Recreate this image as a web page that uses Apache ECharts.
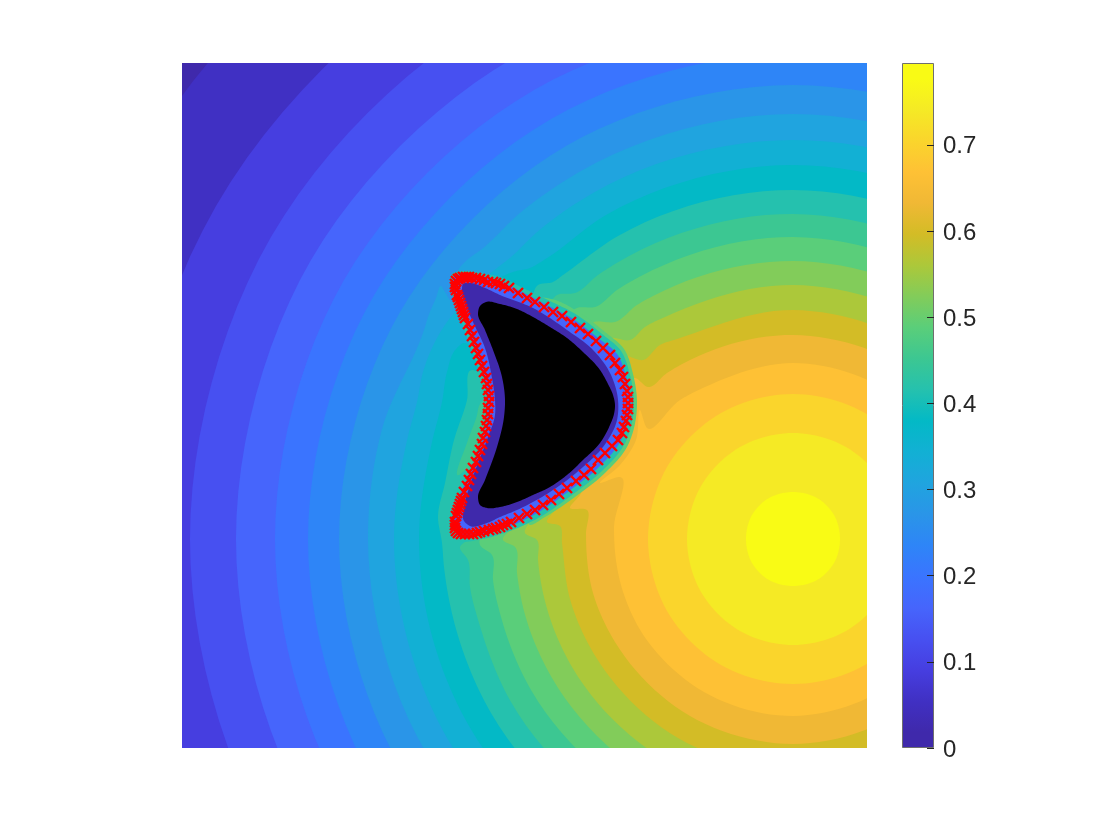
<!DOCTYPE html>
<html>
<head>
<meta charset="utf-8">
<title>Filled contour</title>
<style>
  html, body { margin: 0; padding: 0; background: #fff; }
  #chart { width: 1120px; height: 840px; }
</style>
<script src="https://cdn.jsdelivr.net/npm/echarts@6/dist/echarts.min.js"></script>
</head>
<body>
<div id="chart"></div>
<script>
// band colours, lowest to highest
const bandColors = ['#3f29ab', '#4030c3', '#463ee0', '#4750f1', '#4665fc', '#3a74ff', '#2e85f7', '#2a95e8',
  '#20a4df', '#12b0d4', '#03b9c6', '#25c1ae', '#3cc792', '#5ace7a', '#82cc5a', '#acc83a',
  '#d3bc26', '#f0b835', '#fec135', '#fad52c', '#f5ea25', '#f9fb15'];

// colorbar
const colorbarMax = 0.795;
const colorbarTicks = [0, 0.1, 0.2, 0.3, 0.4, 0.5, 0.6, 0.7];

// contour outlines, each one encloses everything above its level
const contourOutlines = [
  [[1366,209],[1265,587],[989,863],[611,964],[233,863],[-43,587],[-144,209],[-43,-169],[233,-445],[611,-546],[989,-445],[1265,-169]],
  [[1277,209],[1188,542],[944,786],[611,875],[278,786],[34,542],[-55,209],[34,-124],[278,-368],[611,-457],[944,-368],[1188,-124]],
  [[1214,209],[1133,511],[913,731],[611,812],[309,731],[89,511],[8,209],[89,-93],[309,-313],[611,-394],[913,-313],[1133,-93]],
  [[1168,209],[1093,488],[889,691],[611,766],[333,691],[129,488],[54,209],[129,-70],[333,-273],[611,-348],[889,-273],[1093,-70]],
  [[1129,209],[1060,468],[870,658],[611,727],[352,658],[162,468],[93,209],[162,-50],[352,-240],[611,-309],[870,-240],[1060,-50]],
  [[1096,209],[1031,451],[853,629],[611,694],[369,629],[191,451],[126,209],[191,-33],[369,-211],[611,-276],[853,-211],[1031,-33]],
  [[1065,209],[1004,436],[838,602],[611,663],[384,602],[218,436],[157,209],[218,-18],[384,-184],[611,-245],[838,-184],[1004,-18]],
  [[1036,209],[979,421],[823,577],[611,634],[399,577],[338,535],[300,499],[284,487],[276,477],[280,463],[270,446],[263,456],[259,462],[254,450],[246,431],[243,421],[200,319],[186,209],[243,-3],[399,-159],[611,-216],[823,-159],[979,-3]],
  [[1010,209],[957,409],[811,555],[611,608],[411,555],[354,515],[329,491],[315,480],[305,472],[288,453],[273,436],[268,430],[255,410],[241,376],[235,346],[226,312],[212,209],[226,106],[265,10],[411,-137],[611,-190],[811,-137],[957,10]],
  [[985,209],[935,396],[798,533],[611,583],[424,533],[362,488],[348,480],[331,476],[315,468],[308,428],[291,400],[282,405],[274,399],[265,376],[260,346],[250,306],[237,209],[250,112],[287,22],[424,-115],[611,-165],[798,-115],[935,22]],
  [[960,209],[913,384],[785,511],[611,558],[436,512],[381,473],[371,466],[356,463],[348,446],[318,418],[298,376],[290,378],[285,348],[272,308],[263,265],[256,231],[260,205],[262,181],[274,119],[309,35],[437,-93],[611,-140],[785,-93],[913,35]],
  [[936,209],[892,371],[773,490],[611,534],[447,492],[416,473],[393,455],[375,453],[363,436],[320,360],[297,342],[295,333],[286,308],[277,273],[284,278],[296,248],[288,210],[278,201],[286,188],[288,161],[297,125],[329,46],[448,-72],[611,-116],[773,-72],[892,46]],
  [[913,209],[872,360],[762,470],[611,511],[459,472],[435,458],[413,441],[395,440],[378,423],[338,348],[308,228],[298,203],[310,193],[311,168],[319,131],[349,58],[460,-52],[611,-93],[762,-52],[872,58]],
  [[889,209],[852,348],[750,450],[611,487],[471,452],[455,443],[433,426],[412,426],[393,408],[348,348],[333,223],[321,208],[333,201],[335,175],[342,137],[370,70],[472,-32],[611,-69],[750,-32],[852,70]],
  [[865,209],[831,336],[738,429],[611,463],[483,431],[463,421],[448,408],[428,410],[408,388],[358,328],[353,233],[343,215],[355,208],[356,188],[364,143],[390,81],[483,-12],[611,-46],[738,-11],[831,82]],
  [[840,209],[809,323],[725,407],[611,438],[495,409],[478,403],[461,388],[442,392],[423,373],[378,318],[373,238],[365,226],[378,222],[380,205],[388,149],[412,94],[496,10],[611,-21],[725,11],[809,94]],
  [[815,209],[788,311],[713,386],[611,413],[508,388],[485,375],[466,361],[453,370],[433,353],[408,308],[398,253],[388,240],[405,238],[404,215],[411,155],[433,106],[508,32],[611,4],[713,32],[788,107]],
  [[787,209],[763,297],[699,361],[611,385],[523,361],[498,348],[465,320],[458,338],[454,308],[438,283],[418,265],[438,271],[432,221],[439,163],[457,120],[522,56],[611,32],[699,57],[763,121]],
  [[756,209],[737,281],[683,335],[611,354],[539,335],[485,281],[466,209],[485,137],[539,83],[611,64],[683,83],[737,137]],
  [[717,209],[703,262],[664,301],[611,315],[558,301],[519,262],[505,209],[519,156],[558,117],[611,103],[664,117],[703,156]],
  [[658,209],[652,233],[635,250],[611,256],[587,250],[570,233],[564,209],[570,185],[587,168],[611,162],[635,168],[652,185]]
];

// layers squeezed against the obstacle, outermost first, the last one is the obstacle
const shellColors = ['#5ace7a', '#25c1ae', '#4665fc', '#3f29ab', '#000000'];
const shellOutlines = [
  [[358,450],[369,449],[398,435],[423,416],[442,399],[451,374],[455,345],[452,320],[445,301],[424,276],[393,251],[363,231],[348,223],[348,248],[418,328],[358,438]],
  [[269,460],[270,474],[281,477],[298,475],[321,470],[339,461],[366,448],[395,433],[420,414],[439,397],[448,373],[452,345],[449,321],[442,303],[421,278],[390,253],[358,231],[325,216],[300,209],[276,208],[269,218],[272,244],[286,276],[296,301],[302,328],[302,348],[300,367],[291,395],[281,422],[274,442]],
  [[271,460],[272,471],[281,474],[298,472],[318,467],[336,458],[363,444],[391,429],[416,410],[435,394],[444,372],[449,345],[445,323],[438,306],[418,282],[387,257],[355,235],[323,220],[298,213],[276,212],[271,220],[274,243],[288,275],[298,300],[305,328],[305,348],[303,368],[294,396],[284,423],[277,443]],
  [[280,458],[281,464],[288,465],[303,460],[318,453],[351,440],[385,418],[411,398],[428,375],[436,348],[435,328],[421,301],[401,281],[368,256],[335,238],[318,231],[305,225],[288,222],[282,227],[282,241],[288,263],[296,285],[306,311],[313,333],[313,348],[310,370],[303,400],[291,426],[283,445]],
  [[296,435],[298,442],[304,446],[318,444],[335,439],[351,431],[368,421],[385,410],[401,396],[418,378],[426,364],[431,353],[433,343],[432,334],[428,323],[418,305],[401,288],[385,273],[368,261],[351,253],[335,246],[318,241],[305,240],[298,243],[296,250],[303,268],[315,301],[322,331],[323,348],[320,371],[311,398],[303,418]]
];

// red crosses along the boundary
const markerX = [274,273,273,274,276,278,281,284,287,290,294,298,302,306,311,314,318,322,327,336,345,353,362,371,380,389,398,406,414,421,428,433,438,441,443,445,446,446,446,445,444,442,440,436,430,423,416,409,402,394,385,377,369,361,353,345,337,329,325,321,318,314,311,307,302,298,295,291,287,283,279,276,274,273,273,273,274,275,276,277,278,279,280,282,285,287,289,291,294,296,298,300,301,303,304,305,306,306,307,307,306,305,304,302,300,298,296,294,292,290,288,286,283,282,281,280,279,278,277,276,275];
const markerY = [458,461,464,467,469,470,471,471,471,470,470,469,468,466,466,465,464,462,460,455,450,446,441,436,432,426,420,414,407,400,393,385,378,371,364,357,351,345,339,333,327,321,315,308,302,295,288,279,273,267,260,254,248,243,238,234,230,226,224,223,221,220,219,218,217,216,215,214,214,214,214,215,217,220,223,226,232,235,238,241,244,247,250,256,262,268,274,280,286,292,298,304,310,316,322,328,334,340,346,352,358,364,370,376,382,388,394,400,406,412,418,424,430,433,436,439,442,445,448,451,453];

const chart = echarts.init(document.getElementById('chart'));

// curve through the outline points, only for drawing: the stored points stay as read.
// chord-length tangents keep arcs round when the points are unevenly spaced
function curveThrough(pts) {
  const n = pts.length;
  const tangents = pts.map(function (p, i) {
    const a = pts[(i + n - 1) % n], b = pts[(i + 1) % n];
    const d0 = Math.hypot(p[0] - a[0], p[1] - a[1]), d1 = Math.hypot(b[0] - p[0], b[1] - p[1]);
    return [
      ((p[0] - a[0]) / d0 * d1 + (b[0] - p[0]) / d1 * d0) / (d0 + d1),
      ((p[1] - a[1]) / d0 * d1 + (b[1] - p[1]) / d1 * d0) / (d0 + d1)
    ];
  });
  const out = [];
  pts.forEach(function (p, i) {
    const q = pts[(i + 1) % n], m0 = tangents[i], m1 = tangents[(i + 1) % n];
    const d = Math.hypot(q[0] - p[0], q[1] - p[1]);
    const steps = 12;
    for (let k = 0; k < steps; k++) {
      const t = k / steps, t2 = t * t, t3 = t2 * t;
      const h00 = 2 * t3 - 3 * t2 + 1, h10 = t3 - 2 * t2 + t, h01 = -2 * t3 + 3 * t2, h11 = t3 - t2;
      out.push([
        h00 * p[0] + h10 * d * m0[0] + h01 * q[0] + h11 * d * m1[0],
        h00 * p[1] + h10 * d * m0[1] + h01 * q[1] + h11 * d * m1[1]
      ]);
    }
  });
  return out;
}

// draws one filled outline per data item
function polygonRenderer(outlines, colorOf) {
  return function (params, api) {
    const i = api.value(0);
    return {
      type: 'polygon',
      shape: { points: curveThrough(outlines[i]).map(function (p) { return api.coord(p); }) },
      style: { fill: colorOf(i) }
    };
  };
}

// colorbar gradient comes straight from the band colours
const barStops = bandColors.map(function (c, i) {
  return { offset: (i + 0.5) / bandColors.length, color: c };
});

const option = {
  animation: false,
  backgroundColor: '#fff',
  grid: [
    { left: 182, top: 63, width: 685, height: 685, show: true, backgroundColor: bandColors[0], borderWidth: 0 },
    { left: 902, top: 63, width: 32, height: 685 }
  ],
  xAxis: [
    { gridIndex: 0, type: 'value', min: 0, max: 685, show: false },
    { gridIndex: 1, type: 'category', data: [''], show: false }
  ],
  yAxis: [
    { gridIndex: 0, type: 'value', min: 0, max: 685, show: false },
    {
      gridIndex: 1,
      type: 'value',
      position: 'right',
      min: 0,
      max: colorbarMax,
      z: 5,
      axisLine: { show: false },
      splitLine: { show: false },
      axisTick: { show: true, inside: true, length: 7, lineStyle: { color: '#262626', width: 1 }, customValues: colorbarTicks },
      axisLabel: { color: '#262626', fontSize: 24, fontFamily: 'Liberation Sans', margin: 9, verticalAlign: 'top', lineHeight: 4, customValues: colorbarTicks }
    }
  ],
  series: [
    {
      type: 'custom',
      xAxisIndex: 0,
      yAxisIndex: 0,
      clip: true,
      silent: true,
      z: 2,
      data: contourOutlines.map(function (o, i) { return [i]; }),
      renderItem: polygonRenderer(contourOutlines, function (i) { return bandColors[i + 1]; })
    },
    {
      type: 'custom',
      xAxisIndex: 0,
      yAxisIndex: 0,
      clip: true,
      silent: true,
      z: 3,
      data: shellOutlines.map(function (o, i) { return [i]; }),
      renderItem: polygonRenderer(shellOutlines, function (i) { return shellColors[i]; })
    },
    {
      type: 'scatter',
      xAxisIndex: 0,
      yAxisIndex: 0,
      silent: true,
      z: 4,
      symbol: 'path://M0 0L10 10M0 10L10 0',
      symbolSize: 10,
      itemStyle: { color: 'none', borderColor: '#ff0000', borderWidth: 2.4, opacity: 1 },
      data: markerX.map(function (x, i) { return [x, markerY[i]]; })
    },
    {
      type: 'bar',
      xAxisIndex: 1,
      yAxisIndex: 1,
      barWidth: '100%',
      silent: true,
      itemStyle: {
        color: { type: 'linear', x: 0, y: 1, x2: 0, y2: 0, colorStops: barStops },
        borderColor: '#6f6f6f',
        borderWidth: 1
      },
      data: [colorbarMax]
    }
  ]
};

chart.setOption(option);
</script>
</body>
</html>
